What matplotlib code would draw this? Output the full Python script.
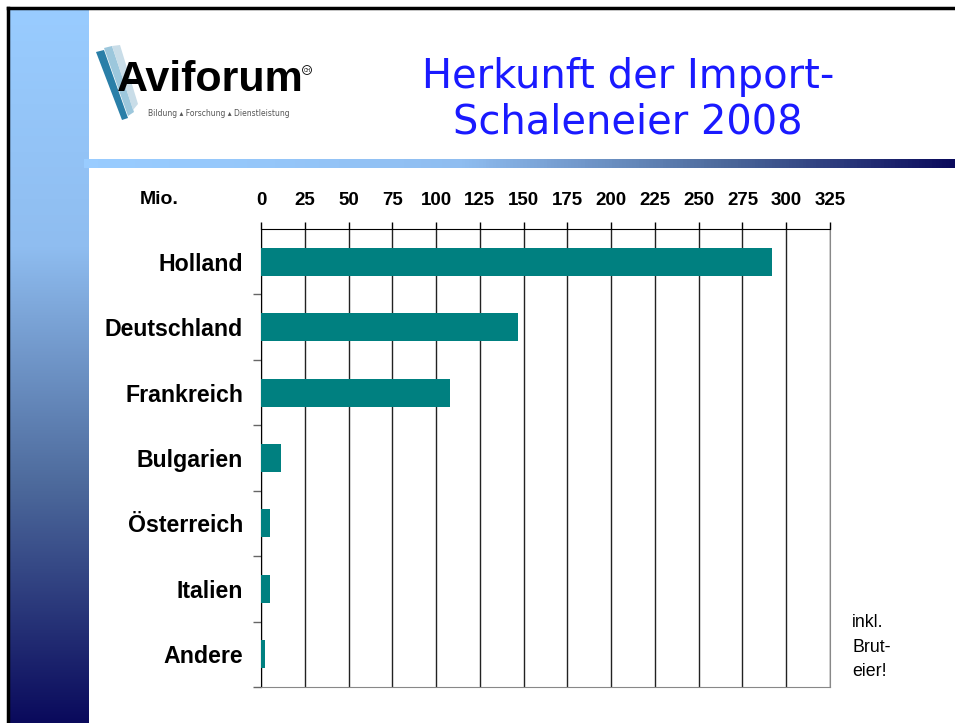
import numpy as np
import matplotlib
matplotlib.use("Agg")
import matplotlib.pyplot as plt
from matplotlib.colors import LinearSegmentedColormap
from matplotlib.patches import Polygon

plt.rcParams['font.family'] = ['Liberation Sans', 'DejaVu Sans']

#
# Data (million eggs)
countries = ["Holland", "Deutschland", "Frankreich", "Bulgarien",
             "Österreich", "Italien", "Andere"]
imports = [292, 147, 108, 11.5, 5, 5, 2.3]
x_ticks = list(range(0, 326, 25))

title_text = "Herkunft der Import-\nSchaleneier 2008"
note_text = "inkl.\nBrut-\neier!"

W, H = 955, 723
fig = plt.figure(figsize=(W / 100, H / 100), dpi=100)


def fx(px):
    return px / W


def fy(py):
    return 1 - py / H


blues = LinearSegmentedColormap.from_list("slide", ["#99ccff", "#8fbdf0", "#4d6a9c", "#0a0a5c"])

#
# Left vertical gradient band
band = fig.add_axes([fx(9), 0, fx(88) - fx(9), fy(8)])
band.imshow(np.linspace(0, 1, 256).reshape(-1, 1), cmap=blues, aspect="auto")
band.axis("off")

#
# Horizontal gradient rule under the header
rule = fig.add_axes([fx(84), fy(168), 1 - fx(84), fy(159) - fy(168)])
grad = np.linspace(0, 1, 256) ** 1.3
rule.imshow(grad.reshape(1, -1), cmap=blues, aspect="auto")
rule.axis("off")

#
# Black slide frame lines
fig.add_artist(plt.Line2D([fx(8), 1], [fy(8), fy(8)], color="black", lw=2.5))
fig.add_artist(plt.Line2D([fx(8), fx(8)], [0, fy(8)], color="black", lw=2.5))

#
# Logo (approximation)
stripes = [
    ([(96, 52), (104, 50), (128, 118), (122, 120)], "#2a7fa8"),
    ([(104, 48), (112, 46), (134, 112), (128, 116)], "#9cc7dc"),
    ([(112, 46), (120, 45), (138, 104), (133, 110)], "#c9dde8"),
]
for pts, col in stripes:
    fig.add_artist(Polygon([(fx(a), fy(b)) for a, b in pts], closed=True,
                           facecolor=col, edgecolor="none", transform=fig.transFigure))
fig.text(fx(117), fy(80), "Aviforum", fontsize=31, fontweight="bold", color="black",
         ha="left", va="center", family="Liberation Sans")
fig.text(fx(307), fy(70), "CH", fontsize=3.5, color="black", ha="center", va="center",
         bbox=dict(boxstyle="circle,pad=0.2", fc="white", ec="black", lw=0.6))
fig.text(fx(148), fy(113), "Bildung \u25b4 Forschung \u25b4 Dienstleistung", fontsize=5.5,
         color="#555555", ha="left", va="center", family="DejaVu Sans")

#
# Title
fig.text(fx(628), fy(100), title_text, fontsize=28.8, color="#1a1aff",
         ha="center", va="center", linespacing=1.18, family="DejaVu Sans")

#
# Chart
ax = fig.add_axes([fx(261), fy(687), fx(830) - fx(261), fy(229) - fy(687)])
y = np.arange(len(countries))
ax.barh(y, imports, height=0.43, color="#008080", zorder=3)
ax.set_ylim(len(countries) - 0.5, -0.5)
ax.set_xlim(0, 325)

ax.xaxis.tick_top()
ax.set_xticks(x_ticks)
ax.set_xticklabels([str(v) for v in x_ticks], fontsize=13.5, fontweight="bold")
ax.tick_params(axis="x", direction="out", length=5, width=1, pad=9.5, color="black")
ax.grid(axis="x", color="#222222", lw=1, zorder=0)

ax.set_yticks(np.arange(1, len(countries) + 1) - 0.5, minor=False)
ax.set_yticklabels([])
ax.set_yticks(y, minor=True)
ax.set_yticklabels(countries, minor=True, fontsize=16.7, fontweight="bold")
ax.tick_params(axis="y", which="major", direction="out", length=6, width=1, color="#666666")
ax.tick_params(axis="y", which="minor", length=0, pad=13)

ax.spines["top"].set_color("black")
ax.spines["left"].set_color("black")
ax.spines["right"].set_color("#888888")
ax.spines["bottom"].set_color("#888888")

fig.text(fx(159), fy(200), "Mio.", fontsize=14, fontweight="bold", ha="center", va="center")
fig.text(fx(852), fy(647), note_text, fontsize=12.8, ha="left", va="center", linespacing=1.6)

fig.savefig("out.png", dpi=100)
